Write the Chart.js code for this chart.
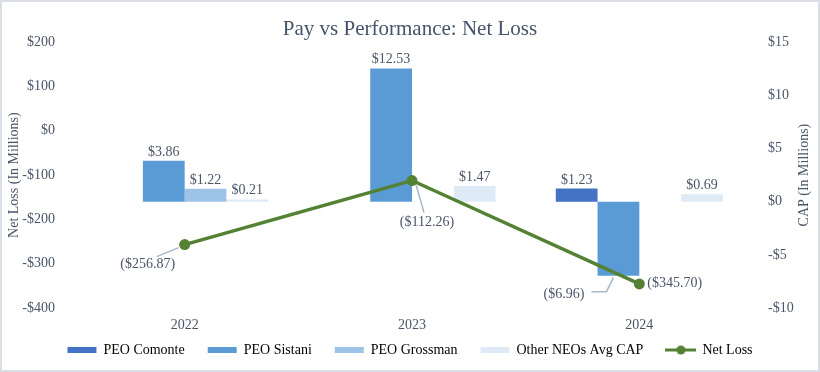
<!DOCTYPE html>
<html>
<head>
<meta charset="utf-8">
<script src="https://cdn.jsdelivr.net/npm/chart.js@4.4.1/dist/chart.umd.min.js"></script>
<style>
html, body { margin: 0; padding: 0; background: #fff; }
#wrap { width: 820px; height: 372px; box-sizing: border-box; border: 2px solid #D9DEE7; }
</style>
</head>
<body>
<div id="wrap"><canvas id="chart"></canvas></div>
<script>
// values
var years = ['2022', '2023', '2024'];
var peoComonte = [null, null, 1.23];
var peoSistani = [3.86, 12.53, -6.96];
var peoGrossman = [1.22, null, null];
var otherNeos = [0.21, 1.47, 0.69];
var netLoss = [-256.87, -112.26, -345.70];

var serif = "'Liberation Serif', 'Times New Roman', serif";
var textColor = '#4A5568';
var leadColor = '#A9B6CB';
var green = '#548235';

function axisMoney(v){
	return v < 0 ? '-$' + Math.abs(v) : '$' + v;
}
function labelMoney(v){
	return v < 0 ? '($' + Math.abs(v).toFixed(2) + ')' : '$' + v.toFixed(2);
}

// where each net loss label sits relative to its point
var lossLabelSpots = [
	{dx: -37, dy: 20, align: 'center', lead: [-6, 3, -28, 12]},
	{dx: 15, dy: 42, align: 'center', lead: [4, 4, 12, 32]},
	{dx: 8, dy: -1, align: 'left', lead: null}
];

// legend marker for the line series
var lineMark = document.createElement('canvas');
lineMark.width = 31;
lineMark.height = 12;
(function(){
	let c = lineMark.getContext('2d');
	c.strokeStyle = green;
	c.lineWidth = 3;
	c.beginPath();
	c.moveTo(0, 6);
	c.lineTo(31, 6);
	c.stroke();
	c.fillStyle = green;
	c.beginPath();
	c.arc(15.5, 6, 4.5, 0, Math.PI * 2);
	c.fill();
})();

var valueLabels = {
	id: 'valueLabels',
	afterDatasetsDraw: function(chart){
		let ctx = chart.ctx;
		ctx.save();
		ctx.font = '14px ' + serif;
		ctx.fillStyle = textColor;
		ctx.strokeStyle = leadColor;
		ctx.lineWidth = 1.5;
		chart.data.datasets.forEach(function(ds, di){
			let meta = chart.getDatasetMeta(di);
			meta.data.forEach(function(el, i){
				let v = ds.data[i];
				if(v === null || v === undefined) return;
				if(ds.type === 'line'){
					let s = lossLabelSpots[i];
					if(s.lead){
						ctx.beginPath();
						ctx.moveTo(el.x + s.lead[0], el.y + s.lead[1]);
						ctx.lineTo(el.x + s.lead[2], el.y + s.lead[3]);
						ctx.stroke();
					}
					ctx.textAlign = s.align;
					ctx.textBaseline = 'middle';
					ctx.fillText(labelMoney(v), el.x + s.dx, el.y + s.dy);
				}else if(v >= 0){
					ctx.textAlign = 'center';
					ctx.textBaseline = 'alphabetic';
					ctx.fillText(labelMoney(v), el.x, el.y - 5);
				}else{
					ctx.beginPath();
					ctx.moveTo(el.x - 5, el.y + 2);
					ctx.lineTo(el.x - 12, el.y + 16);
					ctx.lineTo(el.x - 27, el.y + 16);
					ctx.stroke();
					ctx.textAlign = 'right';
					ctx.textBaseline = 'middle';
					ctx.fillText(labelMoney(v), el.x - 34, el.y + 19);
				}
			});
		});
		ctx.restore();
	}
};

var rightTitle = {
	id: 'rightTitle',
	afterDraw: function(chart){
		let ctx = chart.ctx;
		let a = chart.chartArea;
		ctx.save();
		ctx.font = '14px ' + serif;
		ctx.fillStyle = textColor;
		ctx.textAlign = 'center';
		ctx.textBaseline = 'middle';
		ctx.translate(chart.width - 14, (a.top + a.bottom) / 2);
		ctx.rotate(-Math.PI / 2);
		ctx.fillText('CAP (In Millions)', 0, 0);
		ctx.restore();
	}
};

// legend keeps its wide item spacing but sits closer to the year labels
var legendLift = {
	id: 'legendLift',
	afterLayout: function(chart){
		if(chart.legend){
			chart.legend.top -= 14;
			chart.legend.bottom -= 14;
		}
	}
};

function barSet(label, data, color){
	return {
		label: label,
		data: data,
		backgroundColor: color,
		borderWidth: 0,
		yAxisID: 'y1',
		barPercentage: 1,
		categoryPercentage: 0.735
	};
}

var chart = new Chart(document.getElementById('chart'), {
	type: 'bar',
	data: {
		labels: years,
		datasets: [
			{
				type: 'line',
				label: 'Net Loss',
				data: netLoss,
				borderColor: green,
				backgroundColor: green,
				borderWidth: 3.5,
				pointRadius: 5.5,
				pointHoverRadius: 5.5,
				pointBackgroundColor: green,
				pointBorderWidth: 0,
				yAxisID: 'y'
			},
			barSet('PEO Comonte', peoComonte, '#4472C4'),
			barSet('PEO Sistani', peoSistani, '#5B9BD5'),
			barSet('PEO Grossman', peoGrossman, '#9DC3E6'),
			barSet('Other NEOs Avg CAP', otherNeos, '#DEEBF7')
		]
	},
	options: {
		responsive: true,
		maintainAspectRatio: false,
		animation: false,
		layout: {padding: {top: 0, bottom: -11, left: 0, right: 0}},
		plugins: {
			tooltip: {enabled: false},
			title: {
				display: true,
				text: 'Pay vs Performance: Net Loss',
				color: '#44546A',
				font: {family: serif, size: 21, weight: 'normal'},
				padding: {top: 15, bottom: 0}
			},
			legend: {
				position: 'bottom',
				labels: {
					usePointStyle: true,
					pointStyleWidth: 29,
					boxHeight: 6,
					padding: 23,
					color: textColor,
					font: {family: serif, size: 14},
					generateLabels: function(chart){
						let items = [];
						chart.data.datasets.forEach(function(ds, i){
							if(ds.type === 'line') return;
							items.push({text: ds.label, fillStyle: ds.backgroundColor, strokeStyle: ds.backgroundColor,
								lineWidth: 0, pointStyle: 'rect', datasetIndex: i, hidden: false});
						});
						items.push({text: 'Net Loss', fillStyle: green, strokeStyle: green, lineWidth: 0,
							pointStyle: lineMark, datasetIndex: 0, hidden: false});
						return items;
					}
				}
			}
		},
		scales: {
			x: {
				grid: {display: false, drawTicks: false},
				border: {display: false},
				ticks: {color: textColor, font: {family: serif, size: 14}, padding: 9},
				afterFit: function(s){ s.height = 26; }
			},
			y: {
				position: 'left',
				min: -400,
				max: 200,
				grid: {display: false, drawTicks: false},
				border: {display: false},
				ticks: {stepSize: 100, color: textColor, font: {family: serif, size: 14}, padding: 16, callback: axisMoney},
				title: {display: true, text: 'Net Loss (In Millions)', color: textColor, font: {family: serif, size: 14}, padding: {top: 4, bottom: 0}},
				afterFit: function(s){ s.width = 69; }
			},
			y1: {
				position: 'right',
				min: -10,
				max: 15,
				grid: {display: false, drawTicks: false},
				border: {display: false},
				ticks: {stepSize: 5, color: textColor, font: {family: serif, size: 14}, padding: 15, callback: axisMoney},
				afterFit: function(s){ s.width = 65; }
			}
		}
	},
	plugins: [valueLabels, rightTitle, legendLift]
});
</script>
</body>
</html>
